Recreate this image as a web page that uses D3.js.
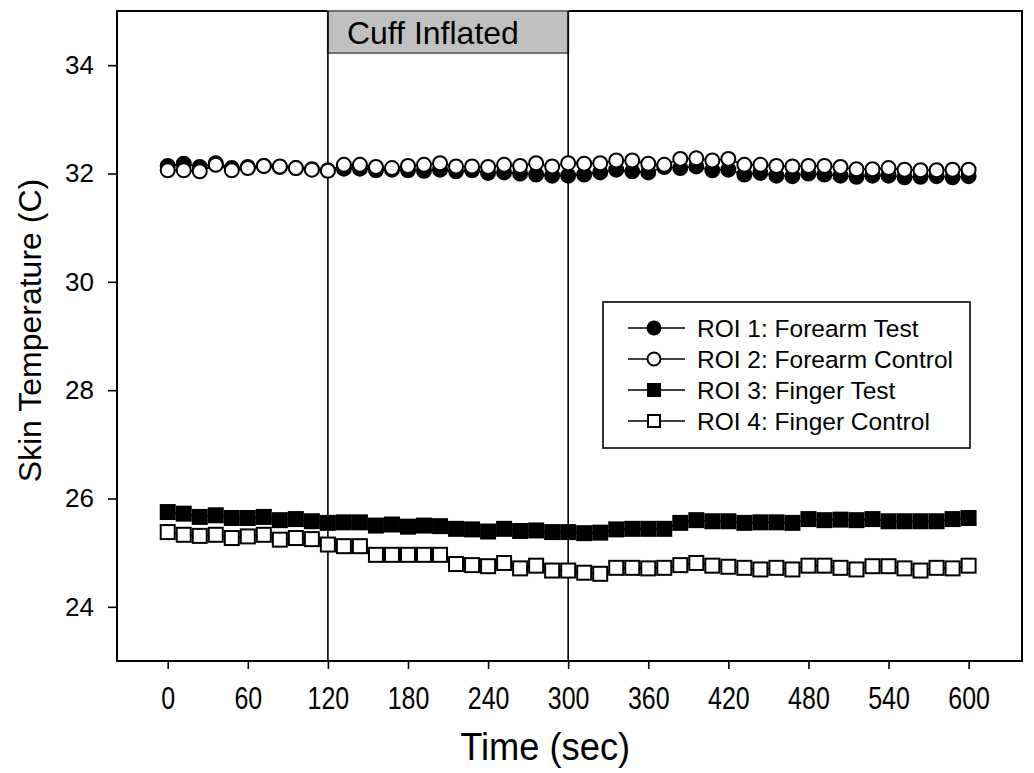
<!DOCTYPE html>
<meta charset="utf-8" />
<script src="https://d3js.org/d3.v7.min.js"></script>
<div id="my_dataviz"></div>
<script>
  // data (sec, deg C)
  const times = [0, 12, 24, 36, 48, 60, 72, 84, 96, 108, 120, 132, 144, 156, 168, 180, 192, 204, 216, 228,
    240, 252, 264, 276, 288, 300, 312, 324, 336, 348, 360, 372, 384, 396, 408, 420, 432, 444, 456, 468,
    480, 492, 504, 516, 528, 540, 552, 564, 576, 588, 600];
  const roi1 = [32.14, 32.18, 32.12, 32.19, 32.10, 32.12, 32.14, 32.12, 32.10, 32.08, 32.06,
    32.09, 32.09, 32.06, 32.07, 32.06, 32.05, 32.07, 32.04, 32.06, 32.01, 32.02, 32.00, 31.98, 31.96, 31.96,
    31.98, 32.02, 32.07, 32.04, 32.02, 32.12, 32.10, 32.13, 32.06, 32.07, 31.98, 32.01, 31.96, 31.95,
    32.00, 31.98, 31.96, 31.94, 31.96, 31.96, 31.93, 31.94, 31.95, 31.93, 31.95];
  const roi2 = [32.06, 32.06, 32.04, 32.16, 32.06, 32.10, 32.14, 32.13, 32.10, 32.07, 32.05,
    32.16, 32.16, 32.12, 32.10, 32.14, 32.16, 32.19, 32.13, 32.13, 32.12, 32.16, 32.14, 32.19, 32.13, 32.19,
    32.18, 32.19, 32.24, 32.24, 32.18, 32.16, 32.27, 32.28, 32.24, 32.27, 32.16, 32.16, 32.14, 32.13,
    32.14, 32.14, 32.12, 32.08, 32.08, 32.10, 32.07, 32.06, 32.06, 32.07, 32.07];
  const roi3 = [25.75, 25.72, 25.66, 25.69, 25.64, 25.64, 25.66, 25.60, 25.62, 25.58, 25.55,
    25.56, 25.56, 25.50, 25.52, 25.48, 25.50, 25.49, 25.44, 25.43, 25.39, 25.44, 25.40, 25.41, 25.38, 25.38,
    25.36, 25.37, 25.43, 25.44, 25.44, 25.44, 25.55, 25.60, 25.58, 25.58, 25.55, 25.56, 25.56, 25.55,
    25.62, 25.60, 25.61, 25.60, 25.62, 25.58, 25.58, 25.58, 25.58, 25.62, 25.64];
  const roi4 = [25.38, 25.33, 25.31, 25.33, 25.27, 25.30, 25.33, 25.24, 25.27, 25.25, 25.15,
    25.12, 25.12, 24.96, 24.96, 24.96, 24.96, 24.96, 24.79, 24.77, 24.75, 24.81, 24.71, 24.76, 24.67, 24.67,
    24.63, 24.61, 24.72, 24.72, 24.71, 24.72, 24.77, 24.81, 24.76, 24.74, 24.72, 24.69, 24.72, 24.69,
    24.76, 24.76, 24.72, 24.69, 24.75, 24.75, 24.71, 24.67, 24.72, 24.71, 24.76];

  const seriesNames = ["ROI 1: Forearm Test", "ROI 2: Forearm Control", "ROI 3: Finger Test", "ROI 4: Finger Control"];
  const xTicks = [0, 60, 120, 180, 240, 300, 360, 420, 480, 540, 600];
  const yTicks = [24, 26, 28, 30, 32, 34];
  const cuffStart = 120, cuffEnd = 300;

  const series = [
    { name: seriesNames[0], values: roi1, shape: "circle", fill: "black" },
    { name: seriesNames[1], values: roi2, shape: "circle", fill: "white" },
    { name: seriesNames[2], values: roi3, shape: "square", fill: "black" },
    { name: seriesNames[3], values: roi4, shape: "square", fill: "white" },
  ];

  const W = 1034, H = 773;
  const margin = { top: 11, right: 12, bottom: 112, left: 117 },
    width = W - margin.left - margin.right,
    height = H - margin.top - margin.bottom;

  const svg = d3
    .select("#my_dataviz")
    .append("svg")
    .attr("width", W)
    .attr("height", H)
    .style("font-family", "'Liberation Sans', Arial, sans-serif")
    .append("g")
    .attr("transform", `translate(${margin.left}, ${margin.top})`);

  const x = d3.scaleLinear().domain([-38, 640]).range([0, width]);
  const y = d3.scaleLinear().domain([23, 35]).range([height, 0]);

  // frame
  svg.append("rect")
    .attr("width", width)
    .attr("height", height)
    .attr("fill", "white")
    .attr("stroke", "black")
    .attr("stroke-width", 2);

  // cuff box
  svg.append("rect")
    .attr("x", x(cuffStart))
    .attr("y", 0)
    .attr("width", x(cuffEnd) - x(cuffStart))
    .attr("height", 42)
    .attr("fill", "#c0c0c0")
    .attr("stroke", "#707070")
    .attr("stroke-width", 2);
  svg.append("text")
    .attr("x", x(cuffStart) + 19)
    .attr("y", 33)
    .style("font-size", "32px")
    .text("Cuff Inflated");

  svg.selectAll(".cuffline")
    .data([cuffStart, cuffEnd])
    .join("line")
    .attr("x1", (d) => x(d))
    .attr("x2", (d) => x(d))
    .attr("y1", 0)
    .attr("y2", height)
    .attr("stroke", "black")
    .attr("stroke-width", 1.6);

  // axes
  const xAxis = svg.append("g")
    .attr("transform", `translate(0, ${height})`)
    .call(d3.axisBottom(x).tickValues(xTicks).tickSize(8).tickPadding(17));
  xAxis.select(".domain").remove();
  xAxis.selectAll("line").attr("stroke-width", 1.6);
  xAxis.selectAll("text")
    .attr("fill", "black")
    .style("font-family", "'Liberation Sans', Arial, sans-serif")
    .style("font-size", "32px")
    .each(function () {
      const len = this.getComputedTextLength();
      d3.select(this).attr("textLength", len * 0.78).attr("lengthAdjust", "spacingAndGlyphs");
    });

  const yAxis = svg.append("g")
    .call(d3.axisLeft(y).tickValues(yTicks).tickSize(9).tickPadding(14));
  yAxis.select(".domain").remove();
  yAxis.selectAll("line").attr("stroke-width", 1.6);
  yAxis.selectAll("text")
    .attr("fill", "black")
    .style("font-family", "'Liberation Sans', Arial, sans-serif")
    .style("font-size", "26px");

  // axis titles
  svg.append("text")
    .attr("x", x(300) - 23)
    .attr("y", height + 99)
    .attr("text-anchor", "middle")
    .attr("textLength", 170)
    .attr("lengthAdjust", "spacingAndGlyphs")
    .style("font-size", "38px")
    .text("Time (sec)");

  svg.append("text")
    .attr("transform", `translate(${-76}, ${y(29.1)}) rotate(-90)`)
    .attr("text-anchor", "middle")
    .style("font-size", "32px")
    .text("Skin Temperature (C)");

  // lines and markers
  const line = d3.line().x((d, i) => x(times[i])).y((d) => y(d));

  function drawMarker(sel, shape, fill, size) {
    if (shape === "circle") {
      sel.append("circle").attr("r", size / 2);
    } else {
      sel.append("rect")
        .attr("x", -size / 2).attr("y", -size / 2)
        .attr("width", size).attr("height", size);
    }
    sel.selectAll("circle, rect")
      .attr("fill", fill)
      .attr("stroke", "black")
      .attr("stroke-width", 2);
  }

  series.forEach((s) => {
    svg.append("path")
      .datum(s.values)
      .attr("d", line)
      .attr("fill", "none")
      .attr("stroke", "black")
      .attr("stroke-width", 1.6);
    svg.append("g")
      .selectAll("g")
      .data(s.values)
      .join("g")
      .attr("transform", (d, i) => `translate(${x(times[i])}, ${y(d)})`)
      .each(function () {
        drawMarker(d3.select(this), s.shape, s.fill, 14);
      });
  });

  // legend
  const lg = svg.append("g").attr("transform", `translate(${486}, ${291})`);
  lg.append("rect")
    .attr("width", 367)
    .attr("height", 146)
    .attr("fill", "white")
    .attr("stroke", "black")
    .attr("stroke-width", 1.6);
  series.forEach((s, i) => {
    const row = lg.append("g").attr("transform", `translate(0, ${26 + i * 31})`);
    row.append("line")
      .attr("x1", 25).attr("x2", 82)
      .attr("stroke", "black").attr("stroke-width", 1.6);
    const m = row.append("g").attr("transform", "translate(51, 0)");
    drawMarker(m, s.shape, s.fill, s.shape === "circle" ? 13 : 12);
    row.append("text")
      .attr("x", 94)
      .attr("dy", "0.36em")
      .style("font-size", "24.5px")
      .text(s.name);
  });
</script>
<style>
  body { margin: 0; background-color: white; }
</style>
